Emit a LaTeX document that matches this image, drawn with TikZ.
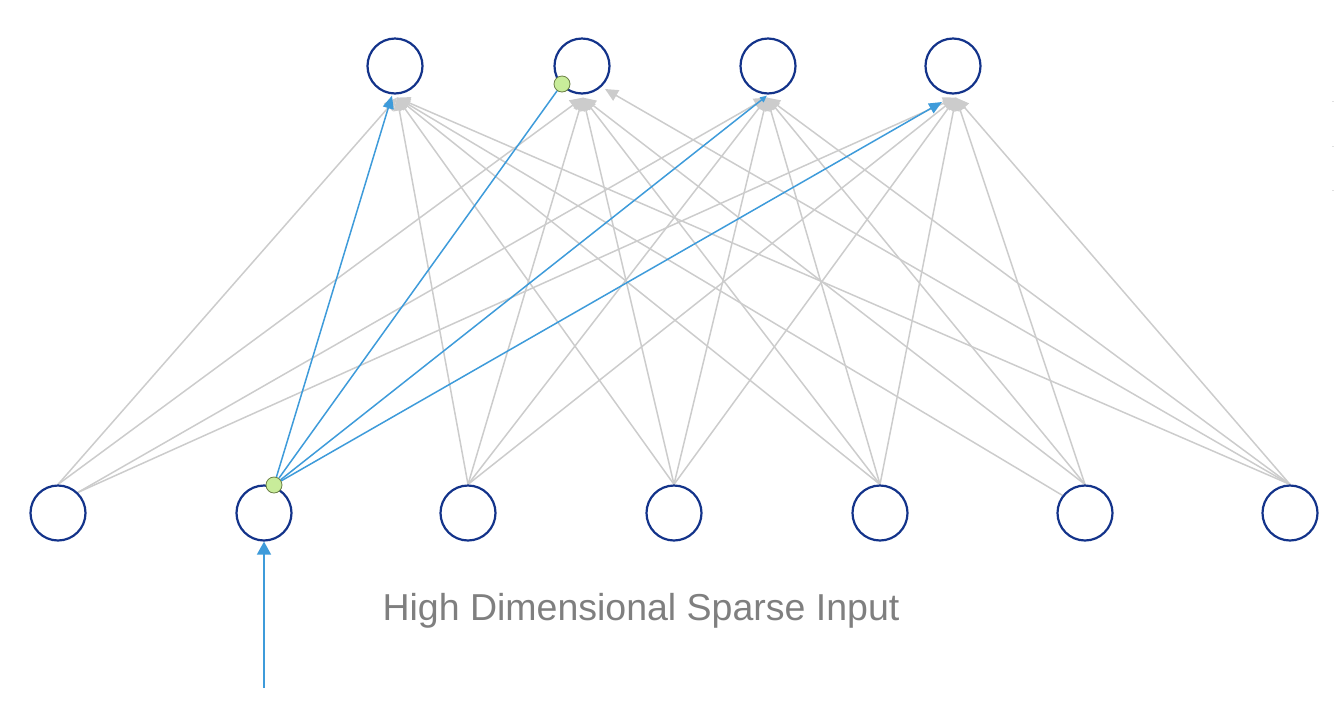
\documentclass[tikz,border=0pt]{standalone}
\usepackage{fontspec}
\setmainfont{Liberation Sans}
\usetikzlibrary{arrows.meta,calc}
\definecolor{ringblue}{HTML}{13338A}
\definecolor{edgegray}{HTML}{CCCCCC}
\definecolor{hiblue}{HTML}{3E9BDA}
\definecolor{dotgreen}{HTML}{C8EC9A}
\definecolor{dotrim}{HTML}{6B7F45}
\definecolor{labelgray}{HTML}{7F7F7F}
\pgfdeclarelayer{bg}
\pgfsetlayers{bg,main}
\begin{document}
\begin{tikzpicture}[x=1pt,y=-1pt,
  unit/.style={circle,draw=ringblue,line width=2.2pt,minimum size=55pt,inner sep=0pt},
  grayedge/.style={draw=edgegray,line width=1.5pt,-{Triangle[length=13pt,width=12pt]}},
  blueedge/.style={draw=hiblue,line width=1.5pt,-{Triangle[length=13pt,width=11pt]}},
  bluesmall/.style={draw=hiblue,line width=1.5pt,-{Triangle[length=7pt,width=6pt]}},
  blueinput/.style={draw=hiblue,line width=1.6pt,-{Triangle[length=13pt,width=14pt]}},
  hotdot/.style={circle,fill=dotgreen,draw=dotrim,line width=0.8pt,minimum size=16pt,inner sep=0pt},
  tick/.style={draw=edgegray!60,line width=1pt}]
\useasboundingbox (0,0) rectangle (1334,716);

% units
\foreach \n/\x in {1/395,2/582,3/768,4/953}
  \node[unit] (t\n) at (\x,66) {};
\foreach \n/\x in {1/58,2/264,3/468,4/674,5/880,6/1085,7/1290}
  \node[unit] (b\n) at (\x,513) {};

% active points
\node[hotdot] (g1) at (274,485) {};
\node[hotdot] (g2) at (562,84) {};

% arrow end points under the output units
\coordinate (e1) at ($(t1.south)+(2,3)$);
\coordinate (e2) at ($(t2.south)+(1,3)$);
\coordinate (e2b) at (605,89);
\coordinate (e3) at ($(t3.south)+(-1,3)$);
\coordinate (e4) at ($(t4.south)+(3,3)$);
\coordinate (bt1) at ($(t1.south)+(-3,1)$);
\coordinate (bt3) at ($(t3.south)+(-1,1)$);
\coordinate (bt4) at (942,102);
\coordinate (src) at (264,688);

\begin{pgfonlayer}{bg}
  % gray connections
  \foreach \s/\t in {b1.north/e1, b1.north/e2, b1.46/e3, b1.46/e4,
                     b3.north/e1, b3.north/e2, b3.north/e3, b3.north/e4,
                     b4.north/e1, b4.north/e2, b4.north/e3, b4.north/e4,
                     b5.north/e1, b5.north/e2, b5.north/e3, b5.north/e4,
                     b6.142/e1, b6.north/e2, b6.north/e3, b6.north/e4,
                     b7.north/e1, b7.north/e2b, b7.north/e3, b7.north/e4}
    \draw[grayedge] (\s) -- (\t);
  % highlighted connections
  \draw[blueedge] (g1) -- (bt1);
  \draw[draw=hiblue,line width=1.5pt] (g1) -- (g2);
  \draw[bluesmall] (g1) -- (bt3);
  \draw[blueedge] (g1) -- (bt4);
  \draw[blueinput] (src) -- (b2);
\end{pgfonlayer}

% small marks at right edge
\draw[tick] (1332,101) -- (1334,101);
\draw[tick] (1332,146) -- (1334,146);
\draw[tick] (1332,190) -- (1334,190);

\node[text=labelgray,font=\fontsize{37.5}{45}\selectfont,inner sep=0pt,anchor=base]
  (cap) at (641,620) {High Dimensional Sparse Input};
\end{tikzpicture}
\end{document}
